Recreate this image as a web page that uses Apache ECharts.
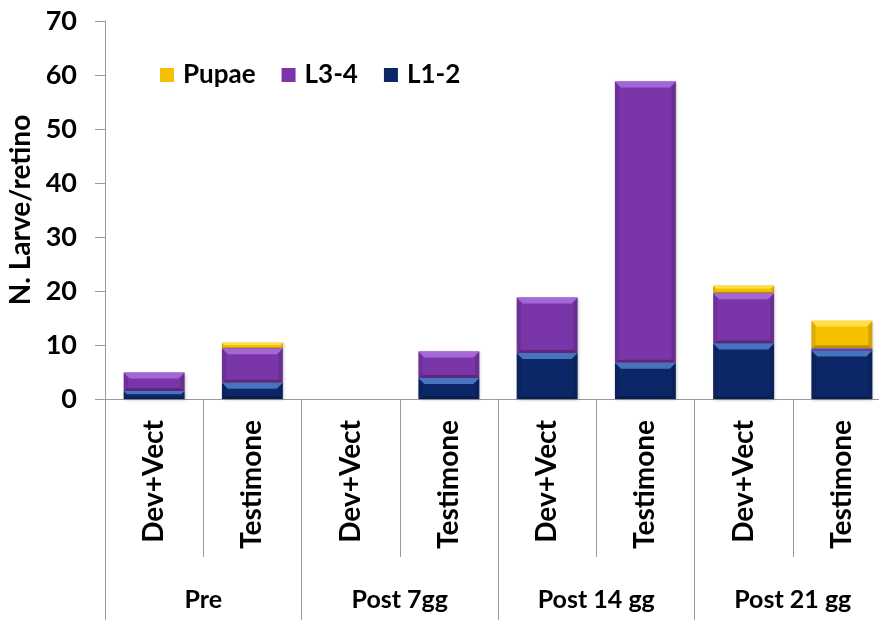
<!DOCTYPE html>
<html>
<head>
<meta charset="utf-8">
<script src="https://cdn.jsdelivr.net/npm/echarts@6/dist/echarts.min.js"></script>
<style>
  html, body { margin: 0; padding: 0; background: #ffffff; }
  #chart { width: 879px; height: 620px; }
</style>
</head>
<body>
<div id="chart"></div>
<script>
// Larval counts per retino, by treatment and sampling time
const categories = ['Dev+Vect', 'Testimone', 'Dev+Vect', 'Testimone', 'Dev+Vect', 'Testimone', 'Dev+Vect', 'Testimone'];
const groups = ['Pre', 'Post 7gg', 'Post 14 gg', 'Post 21 gg'];
const l12 = [1.5, 3.0, 0, 3.9, 8.5, 6.7, 10.3, 9.0];
const l34 = [3.4, 6.4, 0, 4.9, 10.3, 52.1, 9.3, 0.4];
const pupae = [0, 1.0, 0, 0, 0, 0, 1.4, 5.1];
const yTicks = { min: 0, max: 70, interval: 10 };

const FONT = 'Lato, "Liberation Sans", sans-serif';
const layers = [
  { name: 'L1-2', values: l12, body: '#0c2768', light: '#4a78c4' },
  { name: 'L3-4', values: l34, body: '#7a36a8', light: '#a86ad8' },
  { name: 'Pupae', values: pupae, body: '#f4c000', light: '#ffdf4a' }
];

// Stacked segments [category, base, top, layer] for the bevel overlay
const bevelData = [];
const running = categories.map(() => 0);
layers.forEach((layer, li) => {
  layer.values.forEach((v, i) => {
    bevelData.push([i, running[i], running[i] + v, li]);
    running[i] += v;
  });
});

const BAR_RATIO = 0.62;

function renderBevel(params, api) {
  const cat = api.value(0), lo = api.value(1), hi = api.value(2), li = api.value(3);
  if (hi - lo <= 0) return;
  const p0 = api.coord([cat, lo]);
  const p1 = api.coord([cat, hi]);
  const w = api.size([1, 0])[0] * BAR_RATIO;
  const x0 = p0[0] - w / 2, x1 = x0 + w;
  const yb = p0[1], yt = p1[1];
  const h = yb - yt;
  const b = Math.min(6, h / 2.5);
  const light = layers[li].light;
  return {
    type: 'group',
    children: [
      { type: 'polygon', shape: { points: [[x0, yt], [x1, yt], [x1 - b, yt + b], [x0 + b, yt + b]] },
        style: { fill: light, opacity: 0.95 } },
      { type: 'polygon', shape: { points: [[x0, yt], [x0 + b * 0.7, yt + b], [x0 + b * 0.7, yb - b * 0.5], [x0, yb]] },
        style: { fill: 'rgba(0,0,0,0.10)' } },
      { type: 'polygon', shape: { points: [[x1, yt], [x1 - b * 0.7, yt + b], [x1 - b * 0.7, yb - b * 0.5], [x1, yb]] },
        style: { fill: 'rgba(0,0,0,0.14)' } },
      { type: 'polygon', shape: { points: [[x0, yb], [x1, yb], [x1 - b * 0.7, yb - b * 0.5], [x0 + b * 0.7, yb - b * 0.5]] },
        style: { fill: 'rgba(0,0,0,0.25)' } }
    ]
  };
}

const chart = echarts.init(document.getElementById('chart'), null, { renderer: 'canvas' });

const barSeries = layers.map(layer => ({
  name: layer.name,
  type: 'bar',
  stack: 'total',
  barWidth: (BAR_RATIO * 100) + '%',
  data: layer.values,
  itemStyle: {
    color: layer.body,
    shadowColor: 'rgba(0,0,0,0.25)',
    shadowBlur: 3,
    shadowOffsetX: 1,
    shadowOffsetY: 1
  },
  emphasis: { disabled: true }
}));

chart.setOption({
  animation: false,
  backgroundColor: '#ffffff',
  textStyle: { fontFamily: FONT },
  // the plot runs slightly past the right edge of the canvas
  grid: { left: 105, width: 786, top: 21, height: 378, containLabel: false, outerBoundsMode: 'none' },
  legend: {
    data: ['Pupae', 'L3-4', 'L1-2'],
    left: 160,
    top: 62,
    padding: 0,
    itemWidth: 14,
    itemHeight: 14,
    itemGap: 26,
    icon: 'rect',
    textStyle: { fontFamily: FONT, fontSize: 26, fontWeight: 'bold', color: '#000', padding: [0, 0, 0, 4] }
  },
  xAxis: [
    {
      type: 'category',
      data: categories,
      position: 'bottom',
      axisLine: { show: true, lineStyle: { color: '#9a9a9a', width: 1 } },
      axisTick: { show: true, interval: 0, length: 158, lineStyle: { color: '#9a9a9a' } },
      axisLabel: {
        interval: 0, rotate: 90, margin: 21,
        fontFamily: FONT, fontSize: 28, fontWeight: 'bold', color: '#000'
      }
    },
    {
      type: 'category',
      data: groups,
      position: 'bottom',
      axisLine: { show: false },
      axisTick: { show: true, interval: 0, length: 221, lineStyle: { color: '#9a9a9a' } },
      axisLabel: {
        interval: 0, margin: 188,
        fontFamily: FONT, fontSize: 25, fontWeight: 'bold', color: '#000'
      }
    }
  ],
  yAxis: {
    type: 'value',
    min: yTicks.min,
    max: yTicks.max,
    interval: yTicks.interval,
    name: 'N. Larve/retino',
    nameLocation: 'middle',
    nameGap: 62,
    nameTextStyle: { fontFamily: FONT, fontSize: 28, fontWeight: 'bold', color: '#000' },
    axisLine: { show: true, lineStyle: { color: '#9a9a9a' } },
    axisTick: { show: true, length: 10, lineStyle: { color: '#9a9a9a' } },
    axisLabel: { margin: 28, fontFamily: FONT, fontSize: 27, fontWeight: 'bold', color: '#000' },
    splitLine: { show: false }
  },
  series: barSeries.concat([{
    type: 'custom',
    silent: true,
    renderItem: renderBevel,
    encode: { x: 0, y: [1, 2] },
    data: bevelData,
    z: 3
  }])
});
</script>
</body>
</html>
